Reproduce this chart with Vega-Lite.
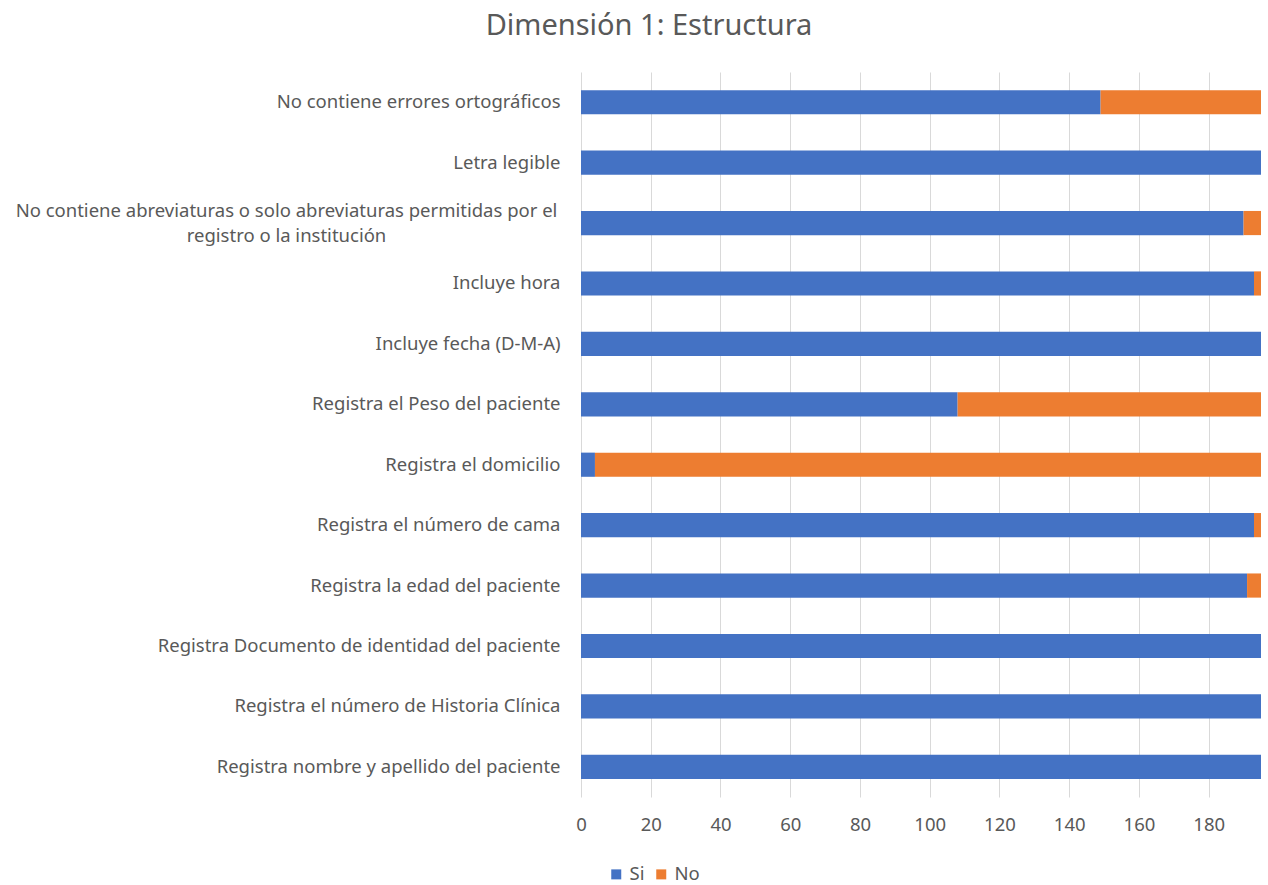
{
  "$schema": "https://vega.github.io/schema/vega-lite/v6.json",
  "autosize": "none",
  "padding": {"left": 581, "top": 72, "right": 7, "bottom": 88},
  "width": 680,
  "height": 725,
  "background": "white",
  "title": {
    "text": "Dimensión 1: Estructura",
    "font": "Noto Sans",
    "fontSize": 29,
    "fontWeight": "normal",
    "color": "#595959",
    "anchor": "middle",
    "offset": 31,
    "dx": -272
  },
  "data": {
    "values": [
      {"item": "No contiene errores ortográficos", "serie": "Si", "n": 149},
      {"item": "No contiene errores ortográficos", "serie": "No", "n": 46},
      {"item": "Letra legible", "serie": "Si", "n": 195},
      {"item": "Letra legible", "serie": "No", "n": 0},
      {"item": "No contiene abreviaturas o solo abreviaturas permitidas por el|registro o la institución", "serie": "Si", "n": 190},
      {"item": "No contiene abreviaturas o solo abreviaturas permitidas por el|registro o la institución", "serie": "No", "n": 5},
      {"item": "Incluye hora", "serie": "Si", "n": 193},
      {"item": "Incluye hora", "serie": "No", "n": 2},
      {"item": "Incluye fecha (D-M-A)", "serie": "Si", "n": 195},
      {"item": "Incluye fecha (D-M-A)", "serie": "No", "n": 0},
      {"item": "Registra el Peso del paciente", "serie": "Si", "n": 108},
      {"item": "Registra el Peso del paciente", "serie": "No", "n": 87},
      {"item": "Registra el domicilio", "serie": "Si", "n": 4},
      {"item": "Registra el domicilio", "serie": "No", "n": 191},
      {"item": "Registra el número de cama", "serie": "Si", "n": 193},
      {"item": "Registra el número de cama", "serie": "No", "n": 2},
      {"item": "Registra la edad del paciente", "serie": "Si", "n": 191},
      {"item": "Registra la edad del paciente", "serie": "No", "n": 4},
      {"item": "Registra Documento de identidad del paciente", "serie": "Si", "n": 195},
      {"item": "Registra Documento de identidad del paciente", "serie": "No", "n": 0},
      {"item": "Registra el número de Historia Clínica", "serie": "Si", "n": 195},
      {"item": "Registra el número de Historia Clínica", "serie": "No", "n": 0},
      {"item": "Registra nombre y apellido del paciente", "serie": "Si", "n": 195},
      {"item": "Registra nombre y apellido del paciente", "serie": "No", "n": 0}
    ]
  },
  "mark": {"type": "bar"},
  "encoding": {
    "y": {
      "field": "item",
      "type": "nominal",
      "sort": null,
      "scale": {"paddingInner": 0.6, "paddingOuter": 0.3},
      "axis": {
        "title": null,
        "domain": false,
        "ticks": false,
        "grid": false,
        "labelFont": "Noto Sans",
        "labelFontSize": 18.5,
        "labelColor": "#595959",
        "labelLimit": 0,
        "labelLineHeight": 25,
        "labelExpr": "split(datum.label, '|')",
        "labelAlign": {"condition": {"test": "indexof(datum.value, '|') >= 0", "value": "center"}, "value": "right"},
        "labelPadding": {"condition": {"test": "indexof(datum.value, '|') >= 0", "value": 295}, "value": 21},
        "labelOffset": {"condition": {"test": "indexof(datum.value, '|') >= 0", "value": -12}, "value": 0}
      }
    },
    "x": {
      "field": "n",
      "type": "quantitative",
      "stack": "zero",
      "scale": {"domain": [0, 195], "nice": false, "zero": true},
      "axis": {
        "title": null,
        "values": [0, 20, 40, 60, 80, 100, 120, 140, 160, 180],
        "domain": false,
        "ticks": false,
        "grid": true,
        "gridColor": "#d9d9d9",
        "gridWidth": 1,
        "labelFlush": false,
        "labelFont": "Noto Sans",
        "labelFontSize": 18.5,
        "labelColor": "#595959",
        "labelPadding": 18
      }
    },
    "color": {
      "field": "serie",
      "type": "nominal",
      "scale": {"domain": ["Si", "No"], "range": ["#4472C4", "#ED7D31"]},
      "legend": {
        "title": null,
        "orient": "none",
        "direction": "horizontal",
        "legendX": 26,
        "legendY": 793,
        "symbolType": "square",
        "symbolSize": 100,
        "symbolStrokeWidth": 0,
        "labelFont": "Noto Sans",
        "labelFontSize": 18.5,
        "labelColor": "#595959",
        "labelOffset": 4,
        "columnPadding": 7
      }
    },
    "order": {"field": "serie", "sort": "descending"}
  },
  "config": {
    "view": {"stroke": null},
    "bar": {"stroke": "#ffffff", "strokeWidth": 0}
  }
}
